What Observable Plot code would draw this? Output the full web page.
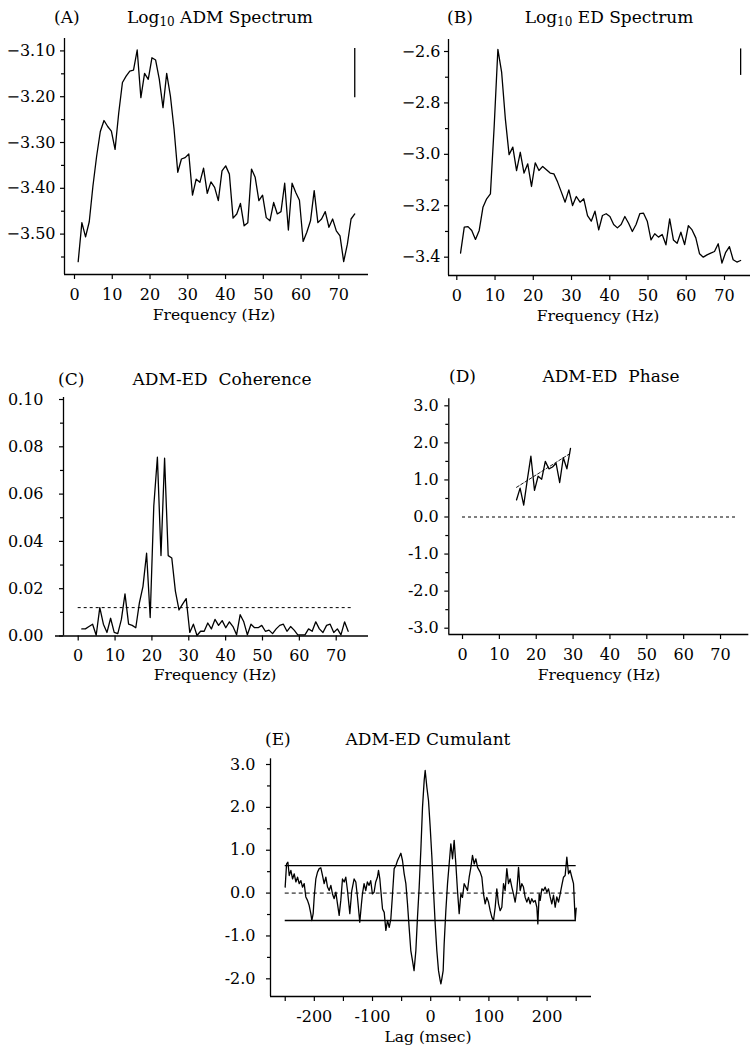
<!DOCTYPE html>
<html>
<head>
<meta charset="utf-8">
<script src="https://cdn.jsdelivr.net/npm/d3@7"></script>
<script src="https://cdn.jsdelivr.net/npm/@observablehq/plot@0.6"></script>
<style>
  html, body { margin: 0; padding: 0; background: #fff; }
  #chart { position: relative; width: 750px; height: 1046px; overflow: hidden; background: #fff; }
  #chart svg { position: absolute; left: 0; top: 0; }
</style>
</head>
<body>
<div id="chart"></div>
<script>
// ---------------- DATA ----------------
// frequency bin width (Hz); spectra start at bin 1
const binHz = 1000 / 1024;

// (A) Log10 ADM spectrum, bins 1..76
const admLog10 = [
  -3.560, -3.475, -3.506, -3.473, -3.395, -3.330, -3.276, -3.252, -3.265, -3.275,
  -3.315, -3.235, -3.169, -3.155, -3.144, -3.142, -3.098, -3.202, -3.149, -3.162,
  -3.115, -3.120, -3.162, -3.224, -3.149, -3.198, -3.271, -3.365, -3.336, -3.333,
  -3.325, -3.415, -3.380, -3.387, -3.356, -3.411, -3.386, -3.398, -3.427, -3.362,
  -3.351, -3.369, -3.465, -3.456, -3.433, -3.482, -3.475, -3.358, -3.376, -3.427,
  -3.415, -3.464, -3.471, -3.431, -3.456, -3.451, -3.389, -3.491, -3.389, -3.409,
  -3.426, -3.516, -3.496, -3.471, -3.405, -3.475, -3.467, -3.451, -3.485, -3.467,
  -3.493, -3.504, -3.560, -3.522, -3.467, -3.456
];
const admBar = [-3.095, -3.202];   // confidence bar (Log10 units)

// (B) Log10 ED spectrum, bins 1..76
const edLog10 = [
  -3.384, -3.283, -3.281, -3.296, -3.331, -3.296, -3.206, -3.173, -3.154, -2.894,
  -2.592, -2.680, -2.862, -3.001, -2.972, -3.063, -2.992, -3.073, -3.037, -3.125,
  -3.033, -3.063, -3.047, -3.060, -3.073, -3.076, -3.108, -3.147, -3.186, -3.138,
  -3.199, -3.164, -3.186, -3.173, -3.238, -3.260, -3.221, -3.294, -3.238, -3.231,
  -3.242, -3.273, -3.286, -3.273, -3.242, -3.268, -3.300, -3.273, -3.231, -3.229,
  -3.260, -3.333, -3.309, -3.322, -3.312, -3.352, -3.251, -3.333, -3.346, -3.303,
  -3.351, -3.277, -3.294, -3.325, -3.387, -3.400, -3.391, -3.384, -3.378, -3.348,
  -3.423, -3.381, -3.359, -3.410, -3.419, -3.413
];
const edBar = [-2.590, -2.693];

// (C) ADM-ED coherence, bins 1..75
const coherence = [
  0.0030, 0.0030, 0.0040, 0.0050, 0.0003, 0.0120, 0.0050, 0.0015, 0.0075, 0.0015,
  0.0010, 0.0070, 0.0178, 0.0050, 0.0045, 0.0035, 0.0140, 0.0210, 0.0350, 0.0078,
  0.0550, 0.0756, 0.0340, 0.0752, 0.0340, 0.0330, 0.0190, 0.0110, 0.0135, 0.0158,
  0.0015, 0.0050, 0.0002, 0.0020, 0.0020, 0.0055, 0.0030, 0.0070, 0.0045, 0.0065,
  0.0035, 0.0060, 0.0040, 0.0005, 0.0090, 0.0060, 0.0005, 0.0050, 0.0035, 0.0035,
  0.0045, 0.0020, 0.0025, 0.0010, 0.0030, 0.0045, 0.0050, 0.0020, 0.0040, 0.0025,
  0.0005, 0.0005, 0.0005, 0.0030, 0.0020, 0.0060, 0.0030, 0.0015, 0.0045, 0.0050,
  0.0015, 0.0030, 0.0005, 0.0060, 0.0020
];
const coherenceLimit = 0.012;
const coherenceLimitSpan = [0, 74.2];

// (D) ADM-ED phase (radians), bins 15..30
const phaseFirstBin = 15;
const phase = [0.46, 0.78, 0.32, 1.00, 1.64, 0.72, 1.10, 1.02, 1.50, 1.30, 1.35, 1.45, 0.93, 1.60, 1.30, 1.85];
const phaseFitEnds = [0.80, 1.72];
const phaseZeroSpan = [0, 74.2];

// (E) ADM-ED cumulant
const lagMs = [
  -250.1, -247.7, -245.4, -243.1, -240.3, -237.4, -234.5, -231.7, -228.8, -226.0,
  -223.1, -220.3, -217.4, -214.6, -211.7, -208.8, -206.0, -204.3, -202.0, -200.2,
  -197.4, -194.5, -191.6, -188.8, -185.9, -183.1, -180.2, -177.3, -174.5, -171.6,
  -168.8, -165.9, -163.0, -160.2, -157.3, -154.5, -151.6, -148.7, -145.9, -143.0,
  -139.0, -135.6, -131.6, -128.7, -125.9, -121.9, -119.0, -117.3, -114.5, -111.6,
  -108.8, -105.9, -103.1, -100.2, -97.3, -94.5, -91.6,
  -89.7, -87.4, -85.7, -82.8, -79.9, -77.1, -74.2, -71.3, -68.5, -65.6,
  -62.8, -59.9, -57.0, -54.2, -51.3, -48.5, -45.6, -42.7, -39.9, -37.1,
  -34.2, -31.4, -28.6, -25.5, -22.7, -19.8, -17.0, -14.1, -11.2, -9.5,
  -6.6, -3.8, -0.9, 2.0, 4.8, 7.7, 10.5, 13.4, 16.3, 17.5,
  19.1, 21.4, 23.1, 26.0, 28.9, 31.7, 34.6, 37.5, 40.3, 43.2,
  46.0, 48.9, 51.8, 54.6, 57.5, 60.4, 63.2, 66.1, 69.0, 71.8,
  74.7, 77.6, 80.5,
  85.0, 87.9, 90.7, 93.6, 96.4, 99.3, 102.2, 105.0, 107.9, 110.8,
  113.6, 116.5, 119.3, 122.2, 125.1, 127.9, 130.8, 133.7, 136.5, 139.4,
  142.2, 145.1, 148.0, 150.9, 153.7, 156.6, 159.4, 162.3, 165.2, 168.0,
  170.9, 173.7, 176.6, 179.5, 182.4, 184.1, 186.4, 188.1, 191.0, 193.9,
  196.7, 199.6, 202.4, 205.3, 208.1, 211.0, 213.9, 216.7, 219.6, 222.5,
  225.3, 228.2, 231.0, 233.9, 236.8, 239.6, 242.5, 245.4, 248.3, 250.0
];
const cumulant = [
  0.14, 0.68, 0.72, 0.41, 0.53, 0.33, 0.45, 0.26, 0.37, 0.22,
  0.29, 0.14, 0.22, -0.09, -0.17, -0.29, -0.48, -0.64, -0.48, -0.09,
  0.33, 0.49, 0.57, 0.59, 0.41, 0.22, 0.37, 0.14, 0.06, 0.18,
  -0.02, -0.13, 0.02, -0.25, -0.52, -0.17, 0.33, 0.26, 0.37, 0.06,
  -0.48, 0.06, 0.33, 0.26, -0.09, -0.68, -0.25, -0.02, 0.22, 0.06,
  0.26, 0.18, 0.29, -0.02, 0.02, 0.26, 0.37,
  0.53, 0.33, 0.06, -0.37, -0.45, -0.87, -0.64, -0.80, -0.60, -0.02,
  0.57, 0.64, 0.76, 0.84, 0.93, 0.76, 0.45, 0.22, -0.25, -0.80,
  -1.34, -1.57, -1.81, -1.34, -0.56, 0.14, 0.99, 2.00, 2.63, 2.86,
  2.47, 2.16, 1.54, 0.84, 0.06, -0.72, -1.34, -1.81, -2.04, -2.12,
  -2.00, -1.81, -1.19, -0.41, 0.22, 0.68, 1.15, 0.80, 1.23, 0.68,
  0.06, -0.48, -0.02, -0.10, 0.22, 0.14, 0.06, 0.37, 0.60, 0.88,
  0.68, 0.80, 0.60,
  0.49, 0.37, -0.02, -0.25, -0.10, -0.21, -0.41, -0.56, -0.64, -0.33,
  0.10, -0.25, -0.41, -0.33, 0.22, 0.06, 0.57, 0.22, 0.33, 0.14,
  -0.02, -0.21, 0.06, 0.60, 0.06, 0.22, 0.14, -0.10, -0.21, -0.10,
  -0.25, -0.13, -0.21, -0.17, -0.33, -0.72, -0.02, -0.17, 0.10, 0.06,
  0.14, 0.02, 0.10, -0.09, -0.25, -0.05, -0.33, -0.09, -0.21, -0.02,
  0.18, 0.37, 0.41, 0.84, 0.45, 0.53, 0.37, 0.22, -0.64, -0.35
];
const cumulantLimits = [0.64, -0.64];
const cumulantSpan = [-250, 250];

// tick values
const freqTicks = [0, 10, 20, 30, 40, 50, 60, 70];
const admTicks = [-3.10, -3.20, -3.30, -3.40, -3.50];
const admMinor = [-3.15, -3.25, -3.35, -3.45, -3.55];
const edTicks = [-2.6, -2.8, -3.0, -3.2, -3.4];
const edMinor = [-2.7, -2.9, -3.1, -3.3];
const cohTicks = [0, 0.02, 0.04, 0.06, 0.08, 0.10];
const cohMinor = [0.01, 0.03, 0.05, 0.07, 0.09];
const phaseTicks = [-3, -2, -1, 0, 1, 2, 3];
const phaseMinor = [-2.5, -1.5, -0.5, 0.5, 1.5, 2.5];
const cumTicks = [-2, -1, 0, 1, 2, 3];
const cumMinor = [-1.5, -0.5, 0.5, 1.5, 2.5];
const lagTicks = [-200, -100, 0, 100, 200];
const lagMinor = [-250, -150, -50, 50, 150, 250];

// texts
const panelTags = ["(A)", "(B)", "(C)", "(D)", "(E)"];
const panelTitles = [
  ["Log", "10", " ADM Spectrum"],
  ["Log", "10", " ED Spectrum"],
  ["ADM-ED  Coherence", "", ""],
  ["ADM-ED  Phase", "", ""],
  ["ADM-ED Cumulant", "", ""]
];
const axisLabels = ["Frequency (Hz)", "Frequency (Hz)", "Frequency (Hz)", "Frequency (Hz)", "Lag (msec)"];

// ---------------- DRAW ----------------
const W = 750, H = 1046;
const chart = document.getElementById("chart");
const FONT = "'DejaVu Serif', 'Liberation Serif', serif";
const hy = f => d => f(d).replace("\u2212", "-");

const rows = (vals, firstBin) => vals.map((v, i) => ({f: (i + firstBin) * binHz, v}));

function panel(o) {
  const [L, R, T, B] = o.frame;
  const marks = [
    Plot.axisY(o.yTicks, {tickSize: 4, tickPadding: o.yPad, tickFormat: o.yFmt, label: null, strokeWidth: 1.2}),
    Plot.axisY(o.yMinor, {tickSize: 3, tickFormat: () => "", label: null, strokeWidth: 1.2}),
    Plot.axisX(o.xTicks, {tickSize: 5, tickPadding: 9, tickFormat: o.xFmt, label: null, strokeWidth: 1.2}),
    Plot.ruleX([o.yAxisAt ?? o.xDomain[0]], {y1: o.yDomain[0], y2: o.yDomain[1], strokeWidth: 1.3}),
    Plot.ruleY([o.yDomain[0]], {x1: o.xLineFrom ?? o.xDomain[0], x2: o.xDomain[1], strokeWidth: 1.3})
  ];
  if (o.xMinor) marks.push(Plot.axisX(o.xMinor, {tickSize: 5, tickFormat: () => "", label: null, strokeWidth: 1.2}));
  const svg = Plot.plot({
    width: W, height: H,
    marginLeft: L, marginRight: W - R, marginTop: T, marginBottom: H - B,
    x: {domain: o.xDomain, label: null},
    y: {domain: o.yDomain, label: null},
    style: {background: "transparent", color: "black", fontFamily: FONT, fontSize: "16px", overflow: "visible"},
    marks: [...marks, ...o.marks]
  });
  chart.appendChild(svg);
}

const f2 = d3.format(".2f"), f1 = d3.format(".1f"), fd = d3.format("d");

// (A)
panel({
  frame: [64, 368, 38, 274],
  xDomain: [-2.648, 77.86], yDomain: [-3.5882, -3.0729],
  yTicks: admTicks, yMinor: admMinor, yFmt: f2, yPad: 5,
  xTicks: freqTicks, xFmt: fd,
  marks: [
    Plot.line(rows(admLog10, 1), {x: "f", y: "v", stroke: "black", strokeWidth: 1.3}),
    Plot.ruleX([{f: 76 * binHz, lo: admBar[1], hi: admBar[0]}], {x: "f", y1: "lo", y2: "hi", strokeWidth: 1.3})
  ]
});

// (B)
panel({
  frame: [448, 750, 39, 275],
  xDomain: [-2.17, 76.8], yDomain: [-3.4713, -2.5533],
  yTicks: edTicks, yMinor: edMinor, yFmt: f1, yPad: 4,
  xTicks: freqTicks, xFmt: fd,
  marks: [
    Plot.line(rows(edLog10, 1), {x: "f", y: "v", stroke: "black", strokeWidth: 1.3}),
    Plot.ruleX([{f: 76 * binHz, lo: edBar[1], hi: edBar[0]}], {x: "f", y1: "lo", y2: "hi", strokeWidth: 1.3})
  ]
});

// (C)
panel({
  frame: [63, 368, 397, 635.5],
  xDomain: [-3.988, 78.76], yDomain: [0, 0.10085],
  xLineFrom: -6.16,
  yTicks: cohTicks, yMinor: cohMinor, yFmt: f2, yPad: 16,
  xTicks: freqTicks, xFmt: fd,
  marks: [
    Plot.ruleY([coherenceLimit], {x1: coherenceLimitSpan[0], x2: coherenceLimitSpan[1], strokeWidth: 1, strokeDasharray: "3,3"}),
    Plot.line(rows(coherence, 1), {x: "f", y: "v", stroke: "black", strokeWidth: 1.3})
  ]
});

// (D)
panel({
  frame: [448.3, 748.3, 398.3, 634],
  xDomain: [-3.72, 77.67], yDomain: [-3.170, 3.189],
  yTicks: phaseTicks, yMinor: phaseMinor, yFmt: hy(f1), yPad: 6,
  xTicks: freqTicks, xFmt: fd,
  marks: [
    Plot.ruleY([0], {x1: phaseZeroSpan[0], x2: phaseZeroSpan[1], strokeWidth: 1, strokeDasharray: "3,3"}),
    Plot.line([
      {f: phaseFirstBin * binHz, v: phaseFitEnds[0]},
      {f: (phaseFirstBin + phase.length - 1) * binHz, v: phaseFitEnds[1]}
    ], {x: "f", y: "v", stroke: "black", strokeWidth: 0.9, strokeDasharray: "3,2"}),
    Plot.line(rows(phase, phaseFirstBin), {x: "f", y: "v", stroke: "black", strokeWidth: 1.3})
  ]
});

// (E)
panel({
  frame: [270, 591, 758.3, 996],
  xDomain: [-275.3, 276.3], yDomain: [-2.4125, 3.133],
  yTicks: cumTicks, yMinor: cumMinor, yFmt: hy(f1), yPad: 11,
  xTicks: lagTicks, xFmt: hy(fd), xMinor: lagMinor,
  marks: [
    Plot.ruleY(cumulantLimits, {x1: cumulantSpan[0], x2: cumulantSpan[1], strokeWidth: 1.3}),
    Plot.ruleY([0], {x1: cumulantSpan[0], x2: cumulantSpan[1], strokeWidth: 1, strokeDasharray: "4,3"}),
    Plot.line(lagMs.map((l, i) => ({l, v: cumulant[i]})), {x: "l", y: "v", stroke: "black", strokeWidth: 1.3})
  ]
});

// titles and axis labels
const tagPos = [[54, 23], [447, 23], [58, 385], [449, 382], [265, 745]];
const titlePos = [[220, 23], [609, 23], [222, 385], [611, 382], [428, 745]];
const labelPos = [[214, 320], [598, 321], [215, 680], [599, 680], [428, 1042]];

const ov = d3.create("svg").attr("width", W).attr("height", H)
  .style("font-family", FONT);
panelTags.forEach((t, i) => {
  ov.append("text").attr("x", tagPos[i][0]).attr("y", tagPos[i][1])
    .attr("font-size", 17).text(t);
  const [a, sub, b] = panelTitles[i];
  const tt = ov.append("text").attr("x", titlePos[i][0]).attr("y", titlePos[i][1])
    .attr("font-size", 17).attr("text-anchor", "middle")
    .attr("xml:space", "preserve").style("white-space", "pre");
  tt.append("tspan").style("white-space", "pre").text(a.replace(/  /g, " \u00a0"));
  if (sub) {
    tt.append("tspan").attr("font-size", 12).attr("dy", 3).text(sub);
    tt.append("tspan").attr("dy", -3).style("white-space", "pre").text(b.replace(/^ /, "\u00a0"));
  }
  ov.append("text").attr("x", labelPos[i][0]).attr("y", labelPos[i][1])
    .attr("font-size", 15.5).attr("text-anchor", "middle").text(axisLabels[i]);
});
chart.appendChild(ov.node());
</script>
</body>
</html>
